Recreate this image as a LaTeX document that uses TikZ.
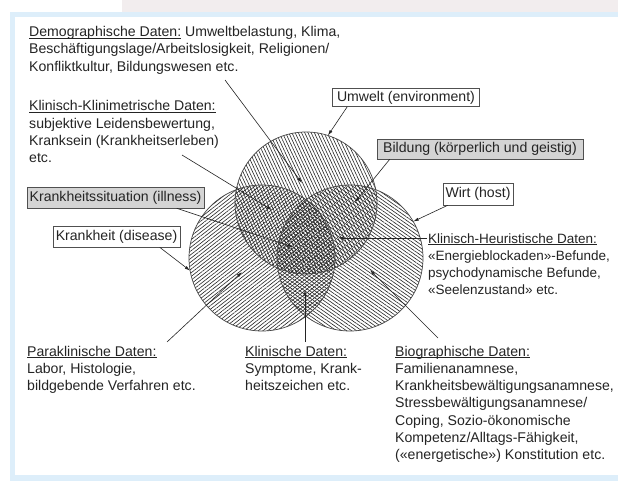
\documentclass[tikz,border=0pt]{standalone}
\usepackage{fontspec}
\setmainfont{Liberation Sans}
\usetikzlibrary{patterns.meta,arrows.meta}
\definecolor{frameblue}{HTML}{DDEEFA}
\definecolor{topstrip}{HTML}{F2EDEE}
\definecolor{ink}{HTML}{242424}
\definecolor{boxgray}{HTML}{D4D4D4}
\newcommand\ulx[1]{\setbox0\hbox{#1}\rlap{\rule[-1.9pt]{\wd0}{0.6pt}}\box0\relax}
\newcommand\txtfont{\fontsize{14.1}{17.3}\selectfont}
\newcommand\smallerfont{\fontsize{13.5}{17.3}\selectfont}
\tikzset{
  hatchA/.style={pattern={Lines[angle=-65,distance=2.9pt,line width=0.6pt]},pattern color=ink},
  hatchB/.style={pattern={Lines[angle=38,distance=2.9pt,line width=0.6pt]},pattern color=ink},
  hatchC/.style={pattern={Lines[angle=-35,distance=2.9pt,line width=0.6pt]},pattern color=ink},
  venn/.style={circle,inner sep=0pt,outer sep=0pt,minimum size=#1},
  rim/.style={draw=ink!85,line width=0.7pt},
  lbox/.style={draw=ink!80,line width=0.6pt,inner sep=0pt,text=ink,font=\txtfont},
  ltext/.style={anchor=base west,inner sep=0pt,text=ink,font=\txtfont},
  lead/.style={draw=ink,line width=0.6pt,-{Latex[length=5.5pt,width=3.2pt]}}
}
\begin{document}
\begin{tikzpicture}[x=1pt,y=1pt]
\useasboundingbox (0,0) rectangle (618,-481);
% background and frame
\fill[white] (0,0) rectangle (618,-481);
\fill[topstrip] (122,0) rectangle (618,-12);
\fill[frameblue] (10,-12) rectangle (618,-481);
\fill[white] (15,-17) rectangle (618,-475);

% circles (hatching)
\node[venn=142pt,hatchA] (ctop) at (306,-203) {};
\node[venn=146pt,hatchB] (cleft) at (262,-258) {};
\node[venn=146pt,hatchC] (cright) at (350,-258) {};
\draw[rim] (ctop.center) circle[radius=71pt];
\draw[rim] (cleft.center) circle[radius=73pt];
\draw[rim] (cright.center) circle[radius=73pt];

% boxed labels
\node[lbox,fill=white,minimum width=147pt,minimum height=18pt] (umwelt) at (406,-97.5) {Umwelt (environment)};
\node[lbox,fill=boxgray,minimum width=206pt,minimum height=20pt] (bildung) at (480,-149) {Bildung (körperlich und geistig)};
\node[lbox,fill=white,minimum width=70pt,minimum height=22pt] (wirt) at (478,-194) {Wirt (host)};
\node[lbox,fill=boxgray,minimum width=177pt,minimum height=21pt] (illness) at (115.5,-197.5) {Krankheitssituation (illness)};
\node[lbox,fill=white,minimum width=127pt,minimum height=21pt] (disease) at (116.5,-236.5) {Krankheit (disease)};

% text blocks
\node[ltext] (demo) at (29,-36.5) {\begin{tabular}[t]{@{}l@{}}\ulx{Demographische Daten:} Umweltbelastung, Klima,\\Beschäftigungslage/Arbeitslosigkeit, Religionen/\\Konfliktkultur, Bildungswesen etc.\end{tabular}};
\node[ltext] (klimet) at (29,-111) {\begin{tabular}[t]{@{}l@{}}\ulx{Klinisch-Klinimetrische Daten:}\\subjektive Leidensbewertung,\\Kranksein (Krankheitserleben)\\etc.\end{tabular}};
\node[ltext,font=\smallerfont] (heur) at (428,-243) {\begin{tabular}[t]{@{}l@{}}\ulx{Klinisch-Heuristische Daten:}\\«Energieblockaden»-Befunde,\\psychodynamische Befunde,\\«Seelenzustand» etc.\end{tabular}};
\node[ltext] (para) at (27,-356) {\begin{tabular}[t]{@{}l@{}}\ulx{Paraklinische Daten:}\\Labor, Histologie,\\bildgebende Verfahren etc.\end{tabular}};
\node[ltext] (klin) at (245,-356) {\begin{tabular}[t]{@{}l@{}}\ulx{Klinische Daten:}\\Symptome, Krank-\\heitszeichen etc.\end{tabular}};
\node[ltext] (bio) at (395,-356) {\begin{tabular}[t]{@{}l@{}}\ulx{Biographische Daten:}\\Familienanamnese,\\Krankheitsbewältigungsanamnese,\\Stressbewältigungsanamnese/\\Coping, Sozio-ökonomische\\Kompetenz/Alltags-Fähigkeit,\\(«energetische») Konstitution etc.\end{tabular}};

% leader coordinates
\coordinate (demoS) at (225,-80);
\coordinate (demoE) at (302,-183);
\coordinate (klimetS) at (182,-155);
\coordinate (klimetE) at (272,-210);
\coordinate (bildE) at (355,-202);
\coordinate (illE) at (293,-247);
\coordinate (heurS) at (427,-238);
\coordinate (heurE) at (338,-238);
\coordinate (paraS) at (167,-342);
\coordinate (paraE) at (242,-272);
\coordinate (klinS) at (305,-342);
\coordinate (klinE) at (305,-290);
\coordinate (bioS) at (438,-338);
\coordinate (bioE) at (370,-270);

% leaders
\draw[lead] (demoS) -- (demoE);
\draw[lead] (klimetS) -- (klimetE);
\draw[lead] ([xshift=15pt]umwelt.south west) -- (ctop.72);
\draw[lead] ([xshift=13pt]bildung.south west) -- (bildE);
\draw[lead] ([xshift=5pt]wirt.south west) -- (cright.30);
\draw[lead] ([xshift=150pt]illness.south west) -- (illE);
\draw[lead] ([xshift=107pt]disease.south west) -- (cleft.190);
\draw[lead] (heurS) -- (heurE);
\draw[lead] (paraS) -- (paraE);
\draw[lead] (klinS) -- (klinE);
\draw[lead] (bioS) -- (bioE);
\end{tikzpicture}
\end{document}
